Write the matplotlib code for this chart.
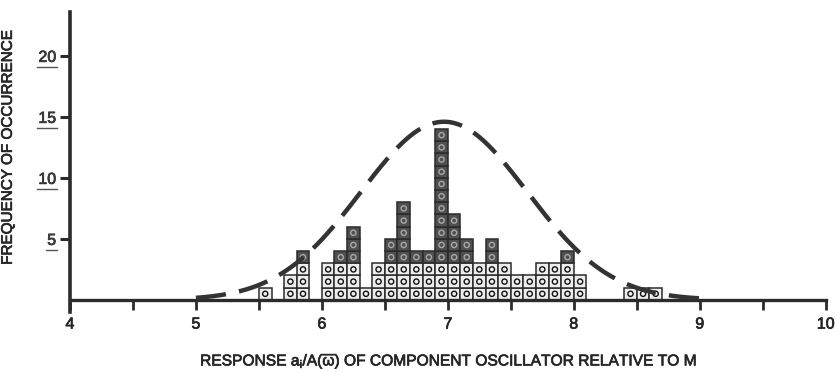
import numpy as np
import matplotlib
matplotlib.use("Agg")
import matplotlib.pyplot as plt
import matplotlib.patheffects as pe
from matplotlib.lines import Line2D

# ---- data -------------------------------------------------------------
bin_left = [5.5, 5.6, 5.7, 5.8, 5.9, 6.0, 6.1, 6.2, 6.3, 6.4, 6.5, 6.6, 6.7,
            6.8, 6.9, 7.0, 7.1, 7.2, 7.3, 7.4, 7.5, 7.6, 7.7, 7.8, 7.9, 8.0,
            8.1, 8.2, 8.3, 8.4, 8.5, 8.6]
counts = [1, 0, 2, 4, 0, 3, 4, 6, 1, 3, 5, 8, 4,
          4, 14, 7, 5, 3, 5, 3, 2, 2, 3, 3, 4, 2,
          0, 0, 0, 1, 1, 1]
bin_width = 0.1

# normal curve overlaid on the histogram
curve_mean = 6.97
curve_sd = 0.66
curve_peak = 14.6
curve_span = (5.0, 9.0)

x_ticks = [4, 4.5, 5, 5.5, 6, 6.5, 7, 7.5, 8, 8.5, 9, 9.5, 10]
x_ticklabels = ["4", "", "5", "", "6", "", "7", "", "8", "", "9", "", "10"]
y_ticks = [5, 10, 15, 20]
y_ticklabels = ["5", "10", "15", "20"]

x_label = r"RESPONSE $\mathrm{a_i}$/A($\overline{\omega}$) OF COMPONENT OSCILLATOR RELATIVE TO M"
y_label = "FREQUENCY OF OCCURRENCE"

family = "Liberation Sans"
plt.rcParams["font.family"] = [family, "DejaVu Sans"]
plt.rcParams["mathtext.fontset"] = "custom"
plt.rcParams["mathtext.rm"] = family
plt.rcParams["mathtext.it"] = family
plt.rcParams["mathtext.bf"] = family + ":bold"

ink = "#2b2b2b"
text_col = "#262626"
heavier = [pe.withStroke(linewidth=0.5, foreground=text_col)]

fig = plt.figure(figsize=(8.36, 3.72), dpi=100)
ax = fig.add_axes([0.0837, 0.161, 0.904, 0.807])
ax.set_xlim(4, 10)
ax.set_ylim(-1, 23.6)

# histogram built up from unit cells, each with a small ring inside
for x0, n in zip(bin_left, counts):
    for k in range(n):
        face = "#505050" if k >= 3 else "#ededed"
        ax.bar(x0, 1, width=bin_width, bottom=k, align="edge",
               facecolor=face, edgecolor=ink, linewidth=1.1, zorder=2)
        ax.scatter(x0 + bin_width / 2, k + 0.5, s=14, marker="o",
                   facecolor="none", edgecolor="#111111" if k < 3 else "#a8a8a8",
                   linewidth=1.0, zorder=3)

# dashed normal curve
xc = np.linspace(curve_span[0], curve_span[1], 300)
yc = curve_peak * np.exp(-(xc - curve_mean) ** 2 / (2 * curve_sd ** 2))
ax.plot(xc, yc, color="#333333", linewidth=3.2, dashes=(6.8, 3.0),
        dash_capstyle="butt", zorder=4)

# axes styling
for side in ("top", "right"):
    ax.spines[side].set_visible(False)
ax.spines["bottom"].set_position(("data", 0))
ax.spines["bottom"].set_linewidth(2.4)
ax.spines["left"].set_linewidth(2.6)
ax.spines["bottom"].set_color(ink)
ax.spines["left"].set_color(ink)

ax.set_xticks(x_ticks)
ax.set_xticklabels(x_ticklabels)
ax.tick_params(axis="x", direction="out", length=7, width=2, color=ink,
               labelsize=11.5, pad=5, labelcolor=text_col)

ax.set_yticks(y_ticks)
ax.set_yticklabels(y_ticklabels)
ax.tick_params(axis="y", direction="out", length=7, width=2.2, color=ink,
               labelsize=11.5, pad=3, labelcolor="#3a3a3a")

for lab in ax.get_xticklabels() + ax.get_yticklabels():
    lab.set_path_effects(heavier)

ax.set_xlabel(x_label, fontsize=11.2, color=text_col, labelpad=13,
              path_effects=heavier)
ax.set_ylabel(y_label, fontsize=11, color=text_col, path_effects=heavier)
ax.yaxis.set_label_coords(-0.073, 0.547)

# underline each y tick label
fig.canvas.draw()
renderer = fig.canvas.get_renderer()
for lab in ax.get_yticklabels():
    bb = lab.get_window_extent(renderer)
    y = bb.y0 - 2.5
    (fx0, fy), (fx1, _) = fig.transFigure.inverted().transform([(bb.x0 - 1, y), (bb.x1 + 1, y)])
    fig.add_artist(Line2D([fx0, fx1], [fy, fy], color="#555555", linewidth=1.0))

fig.savefig("out.png", dpi=100)
